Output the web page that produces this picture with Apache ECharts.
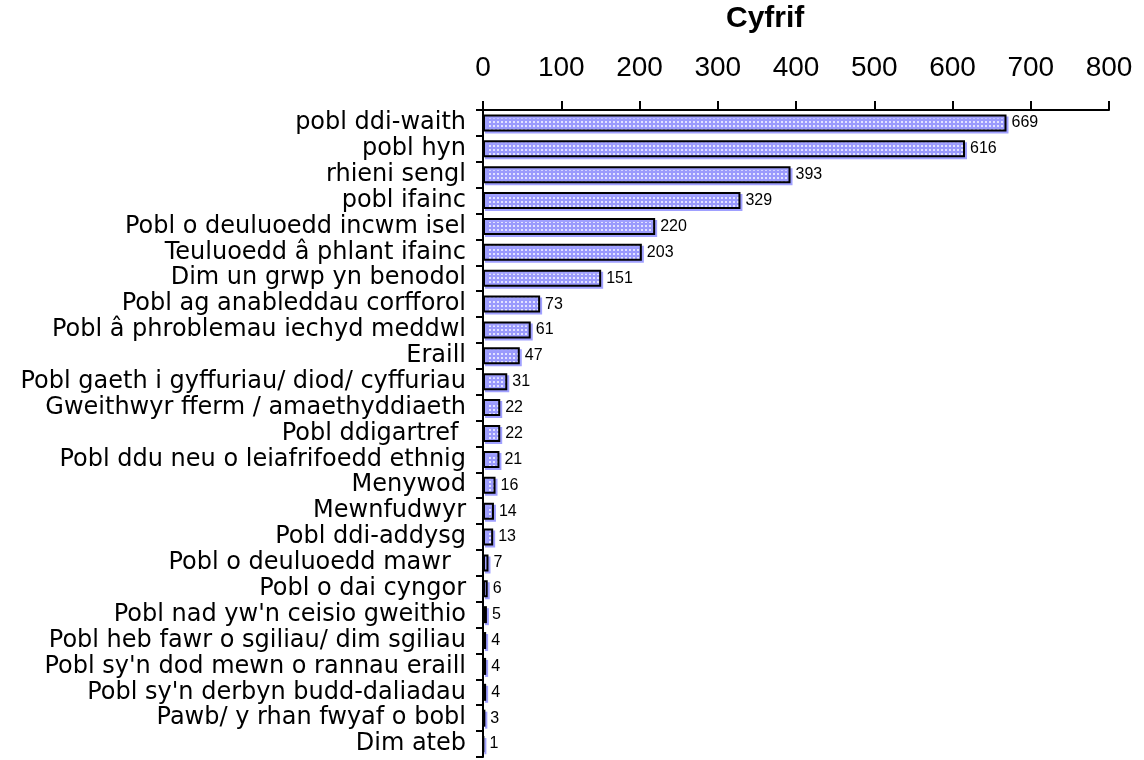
<!DOCTYPE html>
<html>
<head>
<meta charset="utf-8">
<script src="https://cdn.jsdelivr.net/npm/echarts@6/dist/echarts.min.js"></script>
<style>
  html, body { margin: 0; padding: 0; background: #fff; }
  #chart { width: 1144px; height: 760px; }
</style>
</head>
<body>
<div id="chart"></div>
<script>
// Cyfrif - horizontal bar chart

const categories = [
  'pobl ddi-waith', 'pobl hyn', 'rhieni sengl', 'pobl ifainc',
  'Pobl o deuluoedd incwm isel', 'Teuluoedd â phlant ifainc', 'Dim un grwp yn benodol',
  'Pobl ag anableddau corfforol', 'Pobl â phroblemau iechyd meddwl', 'Eraill',
  'Pobl gaeth i gyffuriau/ diod/ cyffuriau', 'Gweithwyr fferm / amaethyddiaeth',
  'Pobl ddigartref ', 'Pobl ddu neu o leiafrifoedd ethnig', 'Menywod', 'Mewnfudwyr',
  'Pobl ddi-addysg', 'Pobl o deuluoedd mawr  ', 'Pobl o dai cyngor',
  "Pobl nad yw'n ceisio gweithio", 'Pobl heb fawr o sgiliau/ dim sgiliau',
  "Pobl sy'n dod mewn o rannau eraill", "Pobl sy'n derbyn budd-daliadau",
  'Pawb/ y rhan fwyaf o bobl', 'Dim ateb'
];
const counts = [669, 616, 393, 329, 220, 203, 151, 73, 61, 47, 31, 22, 22, 21, 16, 14, 13, 7, 6, 5, 4, 4, 4, 3, 1];
const xTicks = [0, 100, 200, 300, 400, 500, 600, 700, 800];

// dotted fill like the original
function dotPattern() {
  const c = document.createElement('canvas');
  c.width = 4; c.height = 4;
  const ctx = c.getContext('2d');
  ctx.fillStyle = '#9a9afc';
  ctx.fillRect(0, 0, 4, 4);
  ctx.fillStyle = '#e2e2ff';
  ctx.fillRect(1, 1, 2, 2);
  return c;
}

const chart = echarts.init(document.getElementById('chart'));
chart.setOption({
  animation: false,
  backgroundColor: '#fff',
  graphic: [{
    type: 'text', left: 726, top: 4,
    style: { text: 'Cyfrif', font: 'bold 30px "Liberation Sans", Arial, sans-serif', fill: '#000' }
  }],
  grid: { left: 483, right: 35, top: 110, bottom: 3 },
  xAxis: {
    type: 'value', position: 'top', min: xTicks[0], max: xTicks[xTicks.length - 1], interval: 100,
    axisLine: { show: true, lineStyle: { color: '#000', width: 2 } },
    axisTick: { show: true, length: 9, lineStyle: { color: '#000', width: 2 } },
    splitLine: { show: false },
    axisLabel: { color: '#000', fontSize: 28, fontFamily: '"Liberation Sans", Arial, sans-serif', margin: 28 }
  },
  yAxis: {
    type: 'category', data: categories, inverse: true,
    axisLine: { show: true, lineStyle: { color: '#000', width: 2 } },
    axisTick: { show: true, length: 7, interval: 0, lineStyle: { color: '#000', width: 2 } },
    axisLabel: { color: '#000', fontSize: 24, interval: 0, fontFamily: '"DejaVu Sans", sans-serif', margin: 17 }
  },
  series: [{
    type: 'bar', data: counts, barWidth: 17,
    itemStyle: {
      color: { image: dotPattern(), repeat: 'repeat' },
      borderColor: '#000', borderWidth: 2,
      shadowColor: '#a0a0ff', shadowOffsetX: 2, shadowOffsetY: 2, shadowBlur: 0
    },
    label: {
      show: true, position: 'right', distance: 5, color: '#000', fontSize: 16,
      fontFamily: '"Liberation Sans", Arial, sans-serif'
    }
  }]
});
window.addEventListener('resize', () => chart.resize());
</script>
</body>
</html>
